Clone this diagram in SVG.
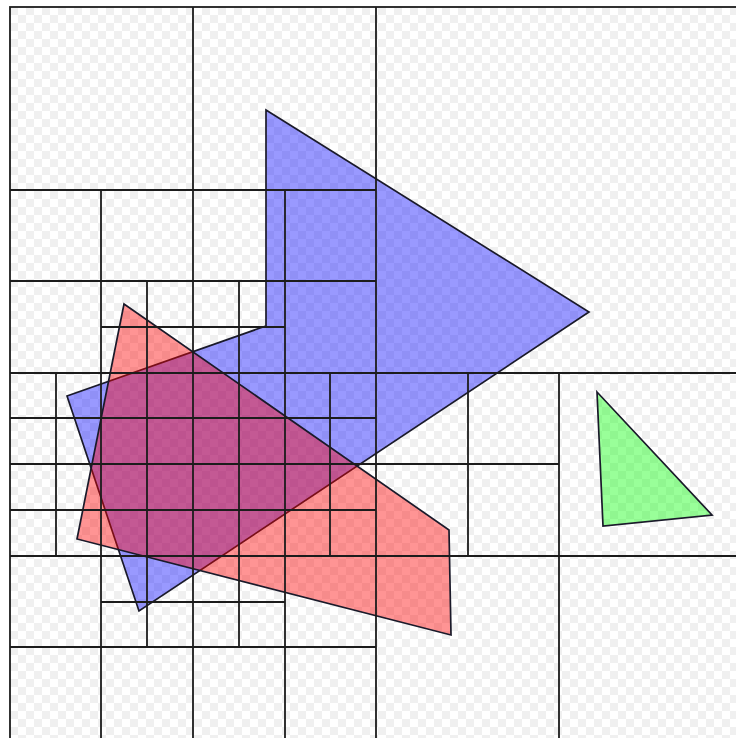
<svg xmlns="http://www.w3.org/2000/svg" width="736" height="738" viewBox="0 0 736 738">
<defs>
<pattern id="checker" x="10" y="7" width="16" height="16" patternUnits="userSpaceOnUse">
<rect width="16" height="16" fill="#ffffff"/>
<rect width="8" height="8" fill="#f0f0f0"/>
<rect x="8" y="8" width="8" height="8" fill="#f0f0f0"/>
</pattern>
<style>
.g{stroke:#1c1c1c;stroke-width:1.8;fill:none}
.p{stroke:#1a1a2a;stroke-width:1.7;stroke-linejoin:miter}
</style>
</defs>
<rect width="736" height="738" fill="#ffffff"/>
<rect x="10" y="7" width="732" height="732" fill="url(#checker)"/>
<g id="blue">
<polygon class="p" fill="rgb(0,0,255)" fill-opacity="0.4" points="266,110 589,312 139,611 67,396 266,326"/>
</g>
<g id="red">
<polygon class="p" fill="rgb(255,0,0)" fill-opacity="0.42" points="124,304 449,530 451,635 77,539"/>
</g>
<g id="green">
<polygon class="p" fill="rgb(0,255,0)" fill-opacity="0.4" points="597,392 712,515 603,526"/>
</g>
<g id="grid" class="g">
<rect x="10" y="7" width="732" height="732"/>
<path d="M376,7V739 M10,373H742"/>
<path d="M193,7V373 M10,190H376"/>
<path d="M101,190V373 M10,281H193"/>
<path d="M147,281V373 M101,327H193"/>
<path d="M285,190V373 M193,281H376"/>
<path d="M239,281V373 M193,327H285"/>
<path d="M193,373V739 M10,556H742"/>
<path d="M101,373V739 M10,464H376"/>
<path d="M285,373V739 M10,647H376"/>
<path d="M56,373V556 M10,418H376 M10,510H376"/>
<path d="M147,373V556 M239,373V556 M330,373V556"/>
<path d="M101,602H285 M147,556V647 M239,556V647"/>
<path d="M559,373V739 M468,373V556 M376,464H559"/>
</g>
</svg>
